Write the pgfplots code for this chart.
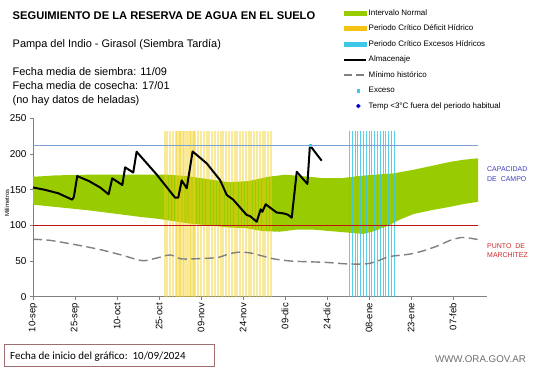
\documentclass[border=0pt]{standalone}
\usepackage{fontspec}
\setmainfont{Liberation Sans}
\newfontfamily\calibri{Carlito}
\usepackage{pgfplots}
\pgfplotsset{compat=1.18}
\definecolor{verde}{RGB}{153,204,0}
\definecolor{amar}{RGB}{240,208,30}
\definecolor{amarleg}{RGB}{245,195,20}
\definecolor{cian}{RGB}{60,200,230}
\definecolor{capline}{RGB}{125,160,210}
\definecolor{pmline}{RGB}{192,20,20}
\definecolor{axgray}{RGB}{128,128,128}
\definecolor{capblue}{RGB}{60,60,190}
\definecolor{pmred}{RGB}{200,40,40}
\definecolor{boxbr}{RGB}{160,110,110}
\begin{document}
\begin{tikzpicture}[x=1bp,y=1bp]
\useasboundingbox (0,0) rectangle (541,368);
% texts
\node[anchor=base west, inner sep=0pt, font=\fontsize{11.2}{13}\selectfont\bfseries] at (12.5,349) {SEGUIMIENTO DE LA RESERVA DE AGUA EN EL SUELO};
\node[anchor=base west, inner sep=0pt, font=\fontsize{11}{13}\selectfont] at (12.5,321) {Pampa del Indio - Girasol (Siembra Tardía)};
\node[anchor=base west, inner sep=0pt, font=\fontsize{11}{13}\selectfont] at (12.5,293) {Fecha media de siembra: 11/09};
\node[anchor=base west, inner sep=0pt, font=\fontsize{11}{13}\selectfont] at (12.5,279) {Fecha media de cosecha: 17/01};
\node[anchor=base west, inner sep=0pt, font=\fontsize{11}{13}\selectfont] at (12.5,265) {(no hay  datos de heladas)};
\node[anchor=base west, inner sep=0pt, font=\fontsize{7}{8}\selectfont, text=capblue] at (487,196.3) {CAPACIDAD};
\node[anchor=base west, inner sep=0pt, font=\fontsize{7}{8}\selectfont, text=capblue] at (487,187) {DE\ \ CAMPO};
\node[anchor=base west, inner sep=0pt, font=\fontsize{7}{8}\selectfont, text=pmred] at (487,119.7) {PUNTO\ \ DE};
\node[anchor=base west, inner sep=0pt, font=\fontsize{7}{8}\selectfont, text=pmred] at (487,110.3) {MARCHITEZ};
\node[rotate=90, inner sep=0pt, font=\fontsize{6}{7}\selectfont] at (7,165) {Milímetros};
\draw[boxbr, line width=0.8bp] (4,2) rectangle (214,24);
\node[anchor=base west, inner sep=0pt, font=\calibri\fontsize{11}{12}\selectfont] at (10,9) {Fecha de inicio del gráfico:\ \ 10/09/2024};
\node[anchor=base east, inner sep=0pt, font=\fontsize{9.8}{11}\selectfont, text={rgb,255:red,110;green,110;blue,110}] at (526,6) {WWW.ORA.GOV.AR};
\begin{axis}[
  at={(33bp,71.3bp)}, anchor=south west,
  scale only axis, width=453.6bp, height=178.4bp,
  xmin=0, xmax=162, ymin=0, ymax=250,
  axis x line*=bottom, axis y line*=left,
  axis line style={-, draw=axgray, line width=1bp},
  xtick={0,15,...,150},
  xticklabels={10-sep,25-sep,10-oct,25-oct,09-nov,24-nov,09-dic,24-dic,08-ene,23-ene,07-feb},
  xticklabel style={rotate=90, anchor=east, font=\fontsize{9.5}{10}\selectfont},
  ytick={0,50,...,250},
  yticklabel style={font=\fontsize{10}{11}\selectfont},
  tick style={axgray, line width=0.8bp}, tick align=outside, major tick length=3bp,
  /pgf/number format/assume math mode=true,
  clip=false,
  legend style={at={(0.6834,1.613)}, anchor=north west, draw=none, fill=none,
    font=\fontsize{8}{9}\selectfont, row sep=7.7bp, inner sep=0pt,
    nodes={inner xsep=1.5bp, inner ysep=0pt, text height=6bp, text depth=1.8bp}},
  legend cell align=left,
]
% green band
\addplot[fill=verde, draw=none, forget plot] coordinates {
(0,168) (8,170) (20,171) (35,171) (48,171) (55,169) (62,165) (70,160.5) (77,162) (84,168) (90,171) (96,169) (104,166) (110,166) (116,169) (122,171) (129,173) (136,178) (142,183) (149,189) (154,192) (159,194)
(159,133) (154,130) (149,126) (142,121) (136,116) (131,108) (127,100) (122,92) (118,88) (112,90) (106,92) (100,94) (94,94) (88,91) (82,92) (76,96) (70,97) (63,100) (57,102) (50,106) (45,109) (38,112) (30,116) (20,121) (10,125) (0,129)} -- cycle;
% yellow critical period
\addplot[ycomb, amar, opacity=0.45, line width=2bp, forget plot] coordinates {
(47,232) (48,232) (49,232) (50,232) (51,232) (52,232) (53,232) (54,232) (55,232) (56,232) (57,232) (58,232) (59,232) (60,232) (61,232) (62,232) (63,232) (64,232) (65,232) (66,232) (67,232) (68,232) (69,232) (70,232) (71,232) (72,232) (73,232) (74,232) (75,232) (76,232) (77,232) (78,232) (79,232) (80,232) (81,232) (82,232) (83,232) (84,232) (85,232)};
\addplot[ycomb, amar, opacity=0.45, line width=1.7bp, forget plot] coordinates {
(51.5,232) (52.5,232) (53.5,232) (54.5,232) (55.5,232) (56.5,232) (57.5,232)};
% cyan critical period
\addplot[ycomb, cian, opacity=0.85, line width=0.9bp, forget plot] coordinates {
(113,232) (114,232) (115,232) (116,232) (117,232) (118,232) (119,232) (120,232) (121,232) (122,232) (123,232) (124,232) (125,232) (126,232) (127,232) (128,232) (129,232)};
% reference lines
\addplot[pmline, line width=0.8bp, forget plot] coordinates {(0,100) (159,100)};
\addplot[capline, line width=1bp, forget plot] coordinates {(0,212) (159,212)};
% minimo historico
\addplot[axgray, line width=1.4bp, dash pattern=on 9bp off 4.5bp, smooth, forget plot] coordinates {
(0,80.5) (6,79) (15,73) (24,66) (32,58) (39,50.5) (44,54) (49,58.5) (53,53) (60,53.5) (66,55) (70,60) (74,62.5) (78,61) (82,57) (86,53) (92,50) (98,49) (105,48) (112,46) (119,46) (123,50) (127,56) (131,58) (135,60) (140,65) (145,72) (149,79) (153,83) (156,82) (159,80)};
% almacenaje
\addplot[black, line width=2bp, line join=round, forget plot] coordinates {
(0,153) (4,150) (9,145) (14,136) (14.6,140) (15.8,169) (20,162) (24,153) (27,143.5) (28.3,165.8) (31.9,156.5) (32.9,181.3) (35.8,174) (37,203.2) (44,172) (50.7,139) (51.9,139) (53.1,163) (54.9,152) (57,203.5) (62,187) (66.8,163.5) (69.2,142.5) (71.5,136) (76.3,114.5) (77.5,113) (79.9,105) (81.3,122.5) (81.9,119) (83.1,129.5) (87,118) (89.4,116.8) (91,115) (92.4,110.7) (94.2,175) (98,158) (98.9,212) (103.1,190.6)};
% exceso
\addplot[only marks, mark=square*, mark size=1.2bp, cian, forget plot] coordinates {(98.9,212)};
% legend
\addlegendimage{legend image code/.code={\fill[verde] (0bp,-2bp) rectangle (22bp,2bp);}}
\addlegendentry{Intervalo Normal}
\addlegendimage{legend image code/.code={\fill[amarleg] (0bp,-2bp) rectangle (22bp,2bp);}}
\addlegendentry{Periodo Crítico Déficit Hídrico}
\addlegendimage{legend image code/.code={\fill[cian] (0bp,-2bp) rectangle (22bp,2bp);}}
\addlegendentry{Periodo Crítico Excesos Hídricos}
\addlegendimage{legend image code/.code={\draw[black, line width=2bp] (0bp,0bp) -- (22bp,0bp);}}
\addlegendentry{Almacenaje}
\addlegendimage{legend image code/.code={\draw[axgray, line width=1.4bp, dash pattern=on 8bp off 4bp] (0bp,0bp) -- (22bp,0bp);}}
\addlegendentry{Mínimo histórico}
\addlegendimage{legend image code/.code={\fill[cian] (13bp,-1.2bp) rectangle (15.4bp,1.2bp);}}
\addlegendentry{Exceso}
\addlegendimage{legend image code/.code={\fill[blue!80!black] (14.2bp,-2bp) -- (16.2bp,0bp) -- (14.2bp,2bp) -- (12.2bp,0bp) -- cycle;}}
\addlegendentry{Temp <3°C fuera del periodo habitual}
\end{axis}
\end{tikzpicture}
\end{document}
